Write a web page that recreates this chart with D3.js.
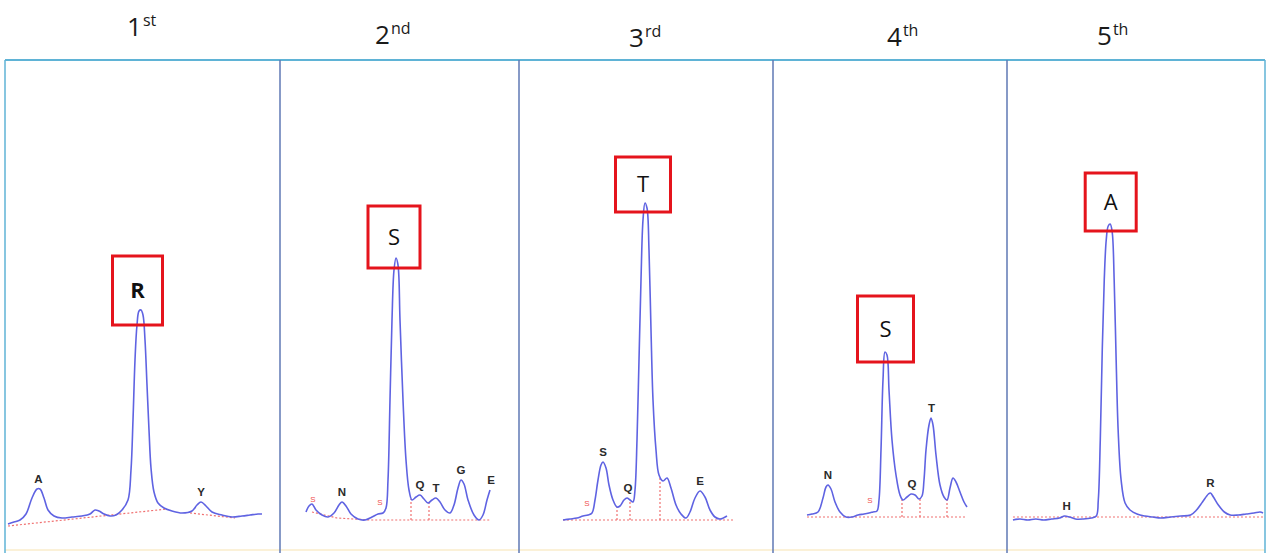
<!DOCTYPE html>
<html>
<head>
<meta charset="utf-8">
<script src="https://cdn.jsdelivr.net/npm/d3@7"></script>
<style>
  body { margin: 0; background: #fff; }
  svg { display: block; }
</style>
</head>
<body>
<figure id="chart" style="margin:0"></figure>
<script>
// Cycle headers
const cycles = ["1", "2", "3", "4", "5"];
const suffixes = ["st", "nd", "rd", "th", "th"];

// Called residue per cycle and its retention time (min)
const calls = ["R", "S", "T", "S", "A"];
const callTimes = [13.55, 11.6, 12.6, 11.25, 10.35];
const callSignals = [210, 262, 317, 168, 296];

// Time window shown in each panel (min)
const windows = [[0, 27.5], [0, 23.9], [0, 25.4], [0, 23.4], [0, 26.0]];

// Traces: retention time (min) and absorbance (mAU)
const trace1Time = [0.3, 0.9, 1.5, 2.1, 2.7, 3.2, 3.5, 3.9, 4.3, 4.9, 5.7, 6.7, 7.7, 8.5, 9.0, 9.4, 9.9, 10.5, 11.1, 11.7,
  12.3, 12.6, 12.8, 13.0, 13.2, 13.4, 13.6, 13.8, 14.0, 14.2, 14.4, 14.6, 14.9, 15.3, 15.9, 16.7, 17.7, 18.7, 19.2, 19.6,
  20.1, 20.7, 21.7, 22.7, 23.7, 24.5, 25.3, 25.7];
const trace1Signal = [-4, -2, 0, 6, 22, 31, 31, 22, 10, 4, 2, 3, 4, 6, 10, 9, 6, 4, 5, 10,
  20, 50, 100, 160, 195, 209, 210, 205, 180, 135, 90, 52, 28, 17, 12, 9, 7, 9, 15, 18,
  14, 8, 5, 3, 4, 5, 6, 6];

const trace2Time = [2.6, 2.9, 3.2, 3.6, 4.2, 4.8, 5.4, 5.9, 6.2, 6.6, 7.1, 7.8, 8.5, 9.2, 9.8, 10.3, 10.6, 10.8, 11.0, 11.2,
  11.4, 11.6, 11.8, 12.0, 12.3, 12.6, 12.9, 13.2, 13.6, 14.0, 14.4, 14.8, 15.2, 15.6, 16.0, 16.5, 17.0, 17.4, 17.8, 18.1,
  18.4, 18.8, 19.4, 19.9, 20.3, 20.7, 21.0];
const trace2Signal = [8, 14, 16, 10, 5, 3, 7, 15, 18, 14, 6, 1, 0, 3, 6, 7, 12, 40, 120, 200,
  250, 262, 255, 200, 120, 60, 30, 20, 23, 25, 21, 17, 20, 22, 18, 10, 7, 15, 32, 40,
  36, 20, 5, 0, 5, 20, 30];

const trace3Time = [4.4, 5.1, 5.8, 6.4, 6.9, 7.3, 7.6, 7.9, 8.2, 8.4, 8.7, 9.0, 9.4, 9.8, 10.1, 10.5, 10.8, 11.1, 11.4, 11.6,
  11.8, 12.0, 12.2, 12.4, 12.6, 12.8, 13.0, 13.2, 13.4, 13.7, 14.0, 14.4, 14.8, 15.2, 15.7, 16.2, 16.7, 17.1, 17.6, 18.1,
  18.6, 19.1, 19.6, 20.1, 20.8];
const trace3Signal = [0, 1, 2, 4, 5, 7, 20, 40, 55, 58, 52, 35, 20, 13, 14, 20, 22, 20, 18, 30,
  80, 160, 240, 300, 317, 312, 270, 190, 120, 70, 45, 39, 42, 32, 15, 6, 2, 8, 22, 29,
  23, 10, 3, 1, 4];

const trace4Time = [3.4, 3.9, 4.5, 5.0, 5.3, 5.5, 5.8, 6.2, 6.7, 7.3, 7.9, 8.5, 9.1, 9.6, 10.0, 10.4, 10.6, 10.8, 11.0, 11.2,
  11.4, 11.6, 11.9, 12.3, 12.7, 13.0, 13.4, 13.8, 14.2, 14.6, 14.9, 15.1, 15.3, 15.6, 15.8, 16.0, 16.3, 16.7, 17.1, 17.4,
  17.7, 18.0, 18.3, 18.7, 19.1, 19.4];
const trace4Signal = [5, 6, 8, 22, 33, 35, 31, 18, 8, 3, 3, 5, 6, 7, 8, 9, 20, 70, 140, 168,
  165, 130, 80, 45, 25, 20, 23, 26, 25, 21, 24, 40, 70, 95, 102, 95, 65, 35, 23, 20,
  32, 42, 38, 28, 18, 13];

const trace5Time = [0.6, 1.3, 2.1, 2.9, 3.7, 4.5, 5.3, 5.8, 6.3, 6.9, 7.7, 8.5, 9.0, 9.2, 9.4, 9.6, 9.8, 10.0, 10.2, 10.4,
  10.6, 10.8, 11.0, 11.2, 11.5, 11.9, 12.4, 13.1, 13.9, 14.7, 15.5, 16.5, 17.5, 18.5, 19.1, 19.7, 20.3, 20.5, 20.8, 21.3,
  21.9, 22.5, 23.3, 24.1, 24.9, 25.5, 25.8];
const trace5Signal = [0, 1, 0, 1, 0, 1, 2, 4, 3, 1, 1, 2, 4, 20, 80, 170, 240, 280, 294, 296,
  288, 240, 160, 90, 40, 17, 10, 6, 4, 3, 2, 3, 4, 5, 10, 18, 26, 27, 23, 15,
  8, 5, 5, 6, 7, 8, 7];

const traceTimes = [trace1Time, trace2Time, trace3Time, trace4Time, trace5Time];
const traceSignals = [trace1Signal, trace2Signal, trace3Signal, trace4Signal, trace5Signal];

// Integration baselines [time, signal] and drop lines [time, signal at trace]
const baselines = [
  [[[0.3, -6], [16.2, 11]], [[18.5, 7], [23.0, 2]]],
  [[[3.2, 8], [5.7, 2], [9.0, 0], [21.0, 0]]],
  [[[4.4, 0], [21.6, 0]]],
  [[[3.4, 3], [19.4, 3]]],
  [[[0.6, 3], [25.8, 3]]]
];
const dropLines = [
  [],
  [[13.1, 21], [14.9, 17]],
  [[9.8, 13], [11.1, 20], [14.1, 44]],
  [[12.9, 20], [14.7, 21], [17.4, 20]],
  []
];
// Peak start markers
const startMarks = [[], [[3.3, 16], [10.0, 13]], [[6.8, 12]], [[9.7, 15]], []];

// Minor peak labels [residue, time, signal]
const minorPeaks = [
  [["A", 3.35, 31], ["Y", 19.6, 18]],
  [["N", 6.2, 18], ["Q", 14.0, 25], ["T", 15.6, 22], ["G", 18.1, 40], ["E", 21.1, 30]],
  [["S", 8.4, 58], ["Q", 10.9, 22], ["E", 18.1, 29]],
  [["N", 5.5, 35], ["Q", 13.9, 26], ["T", 15.85, 102]],
  [["H", 6.0, 4], ["R", 20.5, 27]]
];

// ---- layout ----
const width = 1267, height = 553;
const panelEdges = [5, 280, 519, 773, 1007, 1265];
const frameTop = 60, frameBottom = 550;
const headerPos = [[127, 36], [375, 44], [629, 47], [887, 46], [1097, 45]];
const boxLayout = [
  { w: 50, h: 69, dx: -3, dy: 15, bold: true },
  { w: 52, h: 62, dx: -2, dy: 10, bold: false },
  { w: 55, h: 55, dx: -2, dy: 9, bold: false },
  { w: 56, h: 66, dx: 0, dy: 10, bold: false },
  { w: 51, h: 58, dx: 1, dy: 7, bold: false }
];

const svg = d3.select("figure#chart")
  .append("svg")
  .attr("width", width)
  .attr("height", height)
  .attr("viewBox", `0 0 ${width} ${height}`);

// Shared absorbance scale
const y = d3.scaleLinear().domain([0, 330]).range([520, 190]);

// Frame
const frame = svg.append("g");
frame.append("line")
  .attr("x1", panelEdges[0]).attr("x2", panelEdges[5])
  .attr("y1", frameTop).attr("y2", frameTop)
  .attr("stroke", "#5fb3d6").attr("stroke-width", 2);
frame.append("line")
  .attr("x1", panelEdges[0]).attr("x2", panelEdges[5])
  .attr("y1", frameBottom).attr("y2", frameBottom)
  .attr("stroke", "#fbf1d8").attr("stroke-width", 2);
frame.selectAll("line.edge")
  .data(panelEdges)
  .join("line")
  .attr("class", "edge")
  .attr("x1", d => d).attr("x2", d => d)
  .attr("y1", frameTop).attr("y2", height)
  .attr("stroke", (d, i) => (i === 0 || i === 5) ? "#5fb3d6" : "#5f78b4")
  .attr("stroke-width", 1.5);

// Headers
const header = svg.append("g")
  .selectAll("text")
  .data(cycles)
  .join("text")
  .attr("x", (d, i) => headerPos[i][0])
  .attr("y", (d, i) => headerPos[i][1])
  .attr("font-family", "'Open Sans', sans-serif")
  .attr("font-size", 26)
  .attr("fill", "#1a1a1a");
header.append("tspan").text(d => d);
header.append("tspan")
  .attr("font-size", 16)
  .attr("dy", -10)
  .attr("dx", 1)
  .text((d, i) => suffixes[i]);

// Panels
cycles.forEach((c, i) => {
  const x = d3.scaleLinear().domain(windows[i]).range([panelEdges[i], panelEdges[i + 1]]);
  const g = svg.append("g").attr("class", "panel");
  const pts = traceTimes[i].map((t, k) => [t, traceSignals[i][k]]);

  // Baseline and drop lines
  const base = d3.line().x(d => x(d[0])).y(d => y(d[1]));
  g.selectAll("path.base")
    .data(baselines[i])
    .join("path")
    .attr("class", "base")
    .attr("d", base)
    .attr("fill", "none")
    .attr("stroke", "#f07070")
    .attr("stroke-width", 1.2)
    .attr("stroke-dasharray", "2,2");
  const baseAt = t => {
    const seg = baselines[i].find(s => t >= s[0][0] && t <= s[s.length - 1][0]) || baselines[i][0];
    const bis = d3.bisector(d => d[0]).right(seg, t);
    const a = seg[Math.max(0, bis - 1)], b = seg[Math.min(seg.length - 1, bis)];
    return a[0] === b[0] ? a[1] : a[1] + (b[1] - a[1]) * (t - a[0]) / (b[0] - a[0]);
  };
  g.selectAll("line.drop")
    .data(dropLines[i])
    .join("line")
    .attr("class", "drop")
    .attr("x1", d => x(d[0])).attr("x2", d => x(d[0]))
    .attr("y1", d => y(baseAt(d[0]))).attr("y2", d => y(d[1]))
    .attr("stroke", "#f07070")
    .attr("stroke-width", 1.2)
    .attr("stroke-dasharray", "2,2");
  g.selectAll("text.start")
    .data(startMarks[i])
    .join("text")
    .attr("class", "start")
    .attr("x", d => x(d[0]))
    .attr("y", d => y(d[1]) - 2)
    .attr("text-anchor", "middle")
    .attr("font-family", "'Liberation Sans', Arial, sans-serif")
    .attr("font-size", 8)
    .attr("fill", "#f05050")
    .text("S");

  // Trace
  g.append("path")
    .datum(pts)
    .attr("d", d3.line().x(d => x(d[0])).y(d => y(d[1])).curve(d3.curveCatmullRom.alpha(0.5)))
    .attr("fill", "none")
    .attr("stroke", "#5f63e2")
    .attr("stroke-width", 1.6)
    .attr("stroke-linejoin", "round");

  // Minor peak labels
  g.selectAll("text.peak")
    .data(minorPeaks[i])
    .join("text")
    .attr("class", "peak")
    .attr("x", d => x(d[1]))
    .attr("y", d => y(d[2]) - 6)
    .attr("text-anchor", "middle")
    .attr("font-family", "'Liberation Sans', Arial, sans-serif")
    .attr("font-weight", "bold")
    .attr("font-size", 11.5)
    .attr("fill", "#2a2a2a")
    .text(d => d[0]);

  // Called residue box
  const L = boxLayout[i];
  const cx = x(callTimes[i]) + L.dx;
  const bottom = y(callSignals[i]) + L.dy;
  g.append("rect")
    .attr("x", cx - L.w / 2)
    .attr("y", bottom - L.h)
    .attr("width", L.w)
    .attr("height", L.h)
    .attr("fill", "none")
    .attr("stroke", "#e5141c")
    .attr("stroke-width", 3);
  g.append("text")
    .attr("x", cx)
    .attr("y", bottom - L.h / 2)
    .attr("dy", "0.36em")
    .attr("text-anchor", "middle")
    .attr("font-family", "'Open Sans', sans-serif")
    .attr("font-weight", L.bold ? "bold" : "normal")
    .attr("font-size", 22)
    .attr("fill", "#111")
    .text(calls[i]);
});
</script>
</body>
</html>
